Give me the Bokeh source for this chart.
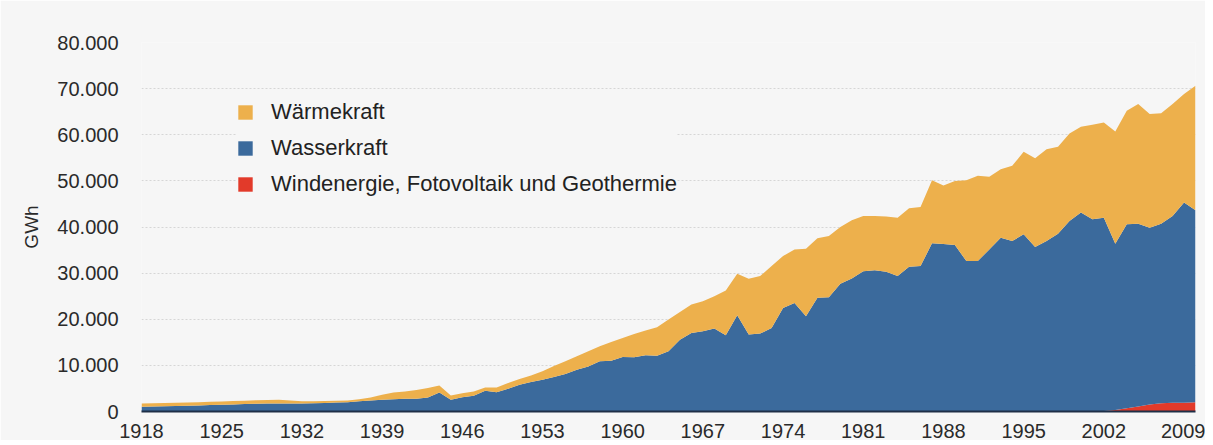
from bokeh.plotting import figure
from bokeh.models import ColumnDataSource, FixedTicker, CustomJSTickFormatter, Legend, LegendItem
from bokeh.embed import file_html
from bokeh.resources import INLINE

years = list(range(1918, 2011))

# Wasserkraft (GWh)
wasser = [1020, 1060, 1120, 1180, 1250, 1320, 1390, 1450, 1530, 1620,
          1690, 1730, 1740, 1740, 1740, 1790, 1850, 1940, 2030, 2200,
          2380, 2540, 2680, 2750, 2750, 3040, 4130, 2540, 3110, 3410,
          4500, 4200, 4930, 5800, 6380, 6880, 7500, 8120, 9060, 9780,
          10870, 11010, 11810, 11740, 12170, 12100, 13040, 15580, 17030, 17390,
          17970, 16520, 20870, 16670, 16900, 18120, 22460, 23550, 20650, 24640,
          24780, 27680, 28840, 30430, 30650, 30290, 29350, 31380, 31520, 36450,
          36300, 36090, 32610, 32610, 35140, 37680, 36960, 38410, 35650, 36960,
          38550, 41300, 43120, 41670, 41930, 36080, 39880, 39620, 38350, 38920,
          40490, 43390, 41630]

# Waermekraft (GWh)
waerme = [720, 740, 730, 700, 700, 700, 710, 720, 720, 730,
          740, 770, 800, 640, 460, 440, 450, 410, 370, 450,
          670, 1080, 1450, 1600, 1890, 2030, 1520, 940, 870, 940,
          720, 1020, 1230, 1230, 1450, 1820, 2350, 2750, 2900, 3260,
          3260, 4060, 4130, 5070, 5370, 6160, 6890, 6010, 6160, 6520,
          7030, 9710, 8990, 12130, 12450, 13400, 11240, 11590, 14640, 12900,
          13260, 12320, 12610, 11960, 11740, 11960, 12680, 12680, 12830, 13690,
          12700, 13910, 17530, 18480, 15730, 14860, 16300, 17890, 19280, 19920,
          18840, 18990, 18620, 20500, 20650, 24340, 24640, 25950, 24640, 23920,
          24280, 23550, 27020]

# Windenergie, Fotovoltaik und Geothermie (GWh)
wind = [0, 0, 0, 0, 0, 0, 0, 0, 0, 0,
        0, 0, 0, 0, 0, 0, 0, 0, 0, 0,
        0, 0, 0, 0, 0, 0, 0, 0, 0, 0,
        0, 0, 0, 0, 0, 0, 0, 0, 0, 0,
        0, 0, 0, 0, 0, 0, 0, 0, 0, 0,
        0, 0, 0, 0, 0, 0, 0, 0, 0, 0,
        0, 0, 0, 0, 0, 0, 0, 0, 0, 0,
        0, 0, 0, 0, 0, 0, 0, 0, 0, 0,
        0, 0, 0, 0, 100, 300, 700, 1100, 1500, 1800,
        1900, 1900, 2000]

series_names = ["Wärmekraft", "Wasserkraft", "Windenergie, Fotovoltaik und Geothermie"]
series_colors = ["#EDB04C", "#3B6A9C", "#E23A2A"]

x_ticks = [1918, 1925, 1932, 1939, 1946, 1953, 1960, 1967, 1974, 1981, 1988, 1995, 2002, 2009]
y_ticks = [0, 10000, 20000, 30000, 40000, 50000, 60000, 70000, 80000]
y_label = "GWh"

source = ColumnDataSource(dict(year=years, wind=wind, wasser=wasser, waerme=waerme))

FONT = "Liberation Sans"
BG = "#f6f6f6"

p = figure(width=1205, height=440, x_range=(1918, 2010), y_range=(0, 80000),
           output_backend="svg", toolbar_location=None,
           min_border_left=141, min_border_right=10, min_border_top=42, min_border_bottom=20,
           background_fill_color=BG, border_fill_color=BG, outline_line_color=None)

rends = p.varea_stack(stackers=["wind", "wasser", "waerme"], x="year", source=source,
                      color=[series_colors[2], series_colors[1], series_colors[0]])

# axes
p.xaxis.ticker = FixedTicker(ticks=x_ticks)
p.yaxis.ticker = FixedTicker(ticks=y_ticks)
p.yaxis.formatter = CustomJSTickFormatter(code=r"""
var s = Math.round(tick).toString();
return s.replace(/\B(?=(\d{3})+(?!\d))/g, ".");
""")
for ax in (p.xaxis, p.yaxis):
    ax.major_tick_line_color = None
    ax.minor_tick_line_color = None
    ax.major_tick_out = 0
    ax.major_tick_in = 0
    ax.major_label_text_font = FONT
    ax.major_label_text_font_size = "20px"
    ax.major_label_text_color = "#2a2a2a"
p.yaxis.axis_line_color = None
p.yaxis.major_label_standoff = 23
p.yaxis.axis_label = y_label
p.yaxis.axis_label_text_font = FONT
p.yaxis.axis_label_text_font_size = "19px"
p.yaxis.axis_label_text_font_style = "normal"
p.yaxis.axis_label_text_color = "#2a2a2a"
p.yaxis.axis_label_standoff = 12
p.xaxis.axis_line_color = "#1e2f47"
p.xaxis.axis_line_width = 2
p.xaxis.major_label_standoff = 12

p.xgrid.visible = False
p.ygrid.ticker = FixedTicker(ticks=y_ticks)
p.ygrid.grid_line_color = "#d6d6d6"
p.ygrid.grid_line_dash = "2 2"
p.ygrid.grid_line_width = 1

items = [LegendItem(label=series_names[0], renderers=[rends[2]]),
         LegendItem(label=series_names[1], renderers=[rends[1]]),
         LegendItem(label=series_names[2], renderers=[rends[0]])]
legend = Legend(items=items, location=(95, 214), orientation="vertical",
                label_text_font=FONT, label_text_font_size="22px", label_text_color="#222222",
                glyph_width=18, glyph_height=18, label_standoff=17, label_height=22,
                spacing=10, padding=5, margin=0,
                background_fill_color=BG, background_fill_alpha=1.0,
                border_line_color=None)
p.add_layout(legend, "center")

open("out.html", "w").write(file_html(p, INLINE))
